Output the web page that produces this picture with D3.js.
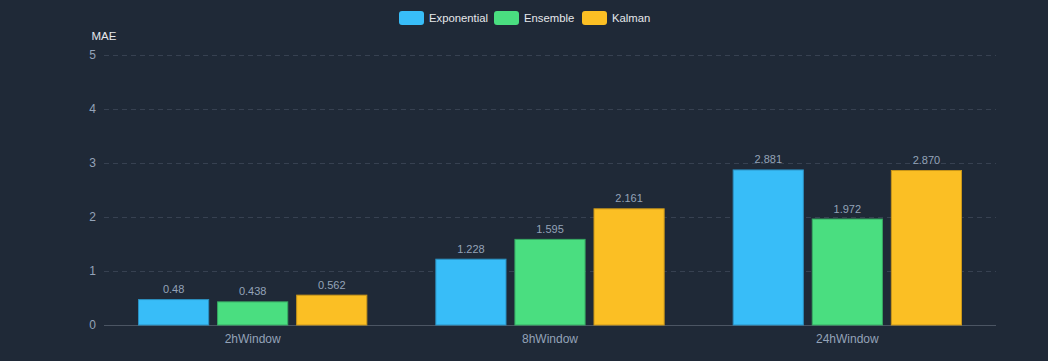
<!DOCTYPE html>
<html>
<head>
<meta charset="utf-8">
<script src="https://cdn.jsdelivr.net/npm/d3@7"></script>
<style>
  html, body { margin: 0; padding: 0; background: #1f2937; }
  svg { display: block; font-family: "Liberation Sans", Arial, sans-serif; }
</style>
</head>
<body>
<div id="graph"></div>
<script>
var categories = ['2hWindow', '8hWindow', '24hWindow']
var seriesNames = ['Exponential', 'Ensemble', 'Kalman']
var exponential = [0.48, 1.228, 2.881]
var ensemble = [0.438, 1.595, 1.972]
var kalman = [0.562, 2.161, 2.870]
var labels = [['0.48', '1.228', '2.881'], ['0.438', '1.595', '1.972'], ['0.562', '2.161', '2.870']]
var yTicks = [0, 1, 2, 3, 4, 5]
var colors = ['#38bdf8', '#4ade80', '#fbbf24']
var strokes = ['#2b8fc0', '#37a862', '#c8951a']

var width = 1048, height = 361
var margin = {top: 55, right: 52, bottom: 36, left: 104}

var svg = d3.select('#graph').append('svg')
  .attr('width', width).attr('height', height)

svg.append('rect').attr('width', width).attr('height', height).attr('fill', '#1f2937')

var x = d3.scaleBand().domain(categories)
  .range([margin.left, width - margin.right])

var y = d3.scaleLinear().domain([0, 5])
  .range([height - margin.bottom, margin.top])

var inner = d3.scaleBand().domain(seriesNames)
  .range([34, x.bandwidth() - 34]).paddingInner(0.1)

// grid
svg.selectAll('.grid').data(yTicks.slice(1)).join('line')
  .attr('x1', margin.left).attr('x2', width - margin.right)
  .attr('y1', d => y(d) + .5).attr('y2', d => y(d) + .5)
  .attr('stroke', '#374151').attr('stroke-dasharray', '5,4')

svg.selectAll('.ytick').data(yTicks).join('text')
  .attr('x', margin.left - 8).attr('y', d => y(d))
  .attr('dy', '0.35em').attr('text-anchor', 'end')
  .attr('fill', '#94a3b8').attr('font-size', 12)
  .text(d => d)

svg.append('line')
  .attr('x1', margin.left).attr('x2', width - margin.right)
  .attr('y1', y(0) + .5).attr('y2', y(0) + .5)
  .attr('stroke', '#4b5563')

svg.selectAll('.xtick').data(categories).join('text')
  .attr('x', d => x(d) + x.bandwidth() / 2).attr('y', y(0) + 18)
  .attr('text-anchor', 'middle')
  .attr('fill', '#94a3b8').attr('font-size', 12)
  .text(d => d)

svg.append('text').attr('x', 104).attr('y', 40)
  .attr('text-anchor', 'middle')
  .attr('fill', '#e5e7eb').attr('font-size', 11.5)
  .text('MAE')

var series = [exponential, ensemble, kalman]

series.forEach((vals, si) => {
  var g = svg.append('g')
  g.selectAll('rect').data(vals).join('rect')
    .attr('x', (d, i) => x(categories[i]) + inner(seriesNames[si]) + .5)
    .attr('y', d => y(d) + .5)
    .attr('width', inner.bandwidth() - 1)
    .attr('height', d => y(0) - y(d) - .5)
    .attr('fill', colors[si])
    .attr('stroke', strokes[si]).attr('stroke-width', 1)
  g.selectAll('text').data(vals).join('text')
    .attr('x', (d, i) => x(categories[i]) + inner(seriesNames[si]) + inner.bandwidth() / 2)
    .attr('y', d => y(d) - 6)
    .attr('text-anchor', 'middle')
    .attr('fill', '#94a3b8').attr('font-size', 11)
    .text((d, i) => labels[si][i])
})

// legend
var legendX = [399, 494, 582]
var lg = svg.selectAll('.legend').data(seriesNames).join('g')
  .attr('transform', (d, i) => `translate(${legendX[i]},11)`)
lg.append('rect').attr('width', 25).attr('height', 14).attr('rx', 3)
  .attr('fill', (d, i) => colors[i])
lg.append('text').attr('x', 30).attr('y', 7).attr('dy', '0.35em')
  .attr('fill', '#e5e7eb').attr('font-size', 11.3)
  .text(d => d)
</script>
</body>
</html>
